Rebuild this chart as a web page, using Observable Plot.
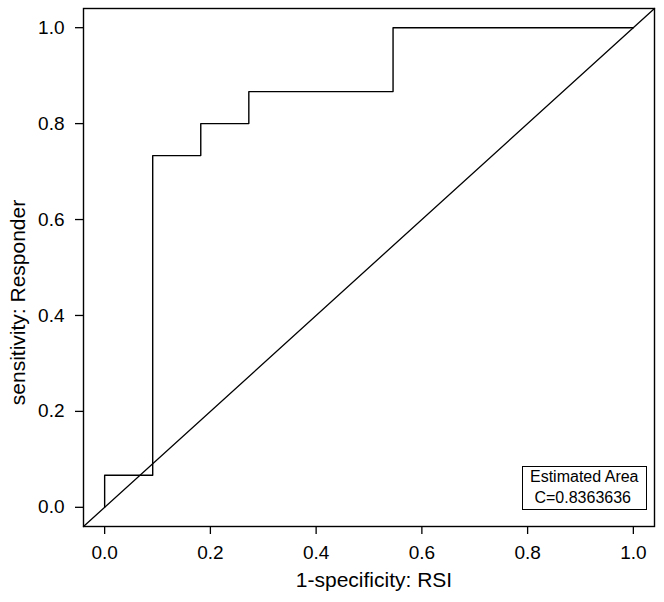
<!DOCTYPE html>
<html>
<head>
<meta charset="utf-8">
<script src="https://cdn.jsdelivr.net/npm/d3@7"></script>
<script src="https://cdn.jsdelivr.net/npm/@observablehq/plot@0.6"></script>
<style>
  html, body { margin: 0; padding: 0; background: #fff; }
  #wrap { position: relative; width: 664px; height: 602px; font-family: "Liberation Sans", Arial, sans-serif; }
  #legend {
    position: absolute; left: 522px; top: 466px; width: 123px; height: 42px;
    border: 1px solid #000; box-sizing: content-box;
    font-size: 16px; line-height: 20.5px; color: #000; padding: 0;
  }
  #legend div { white-space: pre; padding-left: 7px; }
</style>
</head>
<body>
<div id="wrap"></div>
<script>
// ROC curve vertices (1 - specificity, sensitivity)
const fpr = [0, 0, 0.0909, 0.0909, 0.1818, 0.1818, 0.2727, 0.2727, 0.5455, 0.5455, 1.0];
const tpr = [0, 0.0667, 0.0667, 0.7333, 0.7333, 0.8, 0.8, 0.8667, 0.8667, 1.0, 1.0];
const axisRange = [-0.04, 1.04];
const ticks = [0, 0.2, 0.4, 0.6, 0.8, 1.0];
const xTitle = "1-specificity: RSI";
const yTitle = "sensitivity: Responder";
const legendLines = ["Estimated Area", " C=0.8363636"];

const roc = fpr.map((x, i) => ({x, y: tpr[i]}));
const diag = axisRange.map(v => ({x: v, y: v}));

const chart = Plot.plot({
  width: 664,
  height: 602,
  marginLeft: 83,
  marginRight: 10,
  marginTop: 8,
  marginBottom: 76,
  style: {fontFamily: "Liberation Sans, Arial, sans-serif", background: "#fff", color: "#000"},
  x: {domain: axisRange, ticks: ticks, tickFormat: d3.format(".1f")},
  y: {domain: axisRange, ticks: ticks, tickFormat: d3.format(".1f")},
  marks: [
    Plot.axisX({ticks, tickFormat: d3.format(".1f"), tickSize: 8, tickPadding: 11, fontSize: 19, label: null, strokeWidth: 1.3}),
    Plot.axisY({ticks, tickFormat: d3.format(".1f"), tickSize: 8, tickPadding: 11, fontSize: 19, label: null, strokeWidth: 1.3}),
    Plot.frame({stroke: "#000", strokeWidth: 1.4}),
    Plot.line(diag, {x: "x", y: "y", stroke: "#000", strokeWidth: 1.3}),
    Plot.line(roc, {x: "x", y: "y", stroke: "#000", strokeWidth: 1.4}),
    Plot.text([xTitle], {text: d => d, frameAnchor: "bottom", dx: 5, dy: 60, fontSize: 21, lineAnchor: "bottom", fill: "#000"}),
    Plot.text([yTitle], {text: d => d, frameAnchor: "left", textAnchor: "middle", rotate: -90, dx: -65, dy: 35, fontSize: 21, fill: "#000"})
  ]
});

const wrap = document.getElementById("wrap");
wrap.appendChild(chart);
const leg = document.createElement("div");
leg.id = "legend";
legendLines.forEach(t => { const d = document.createElement("div"); d.textContent = t; leg.appendChild(d); });
wrap.appendChild(leg);
</script>
</body>
</html>
